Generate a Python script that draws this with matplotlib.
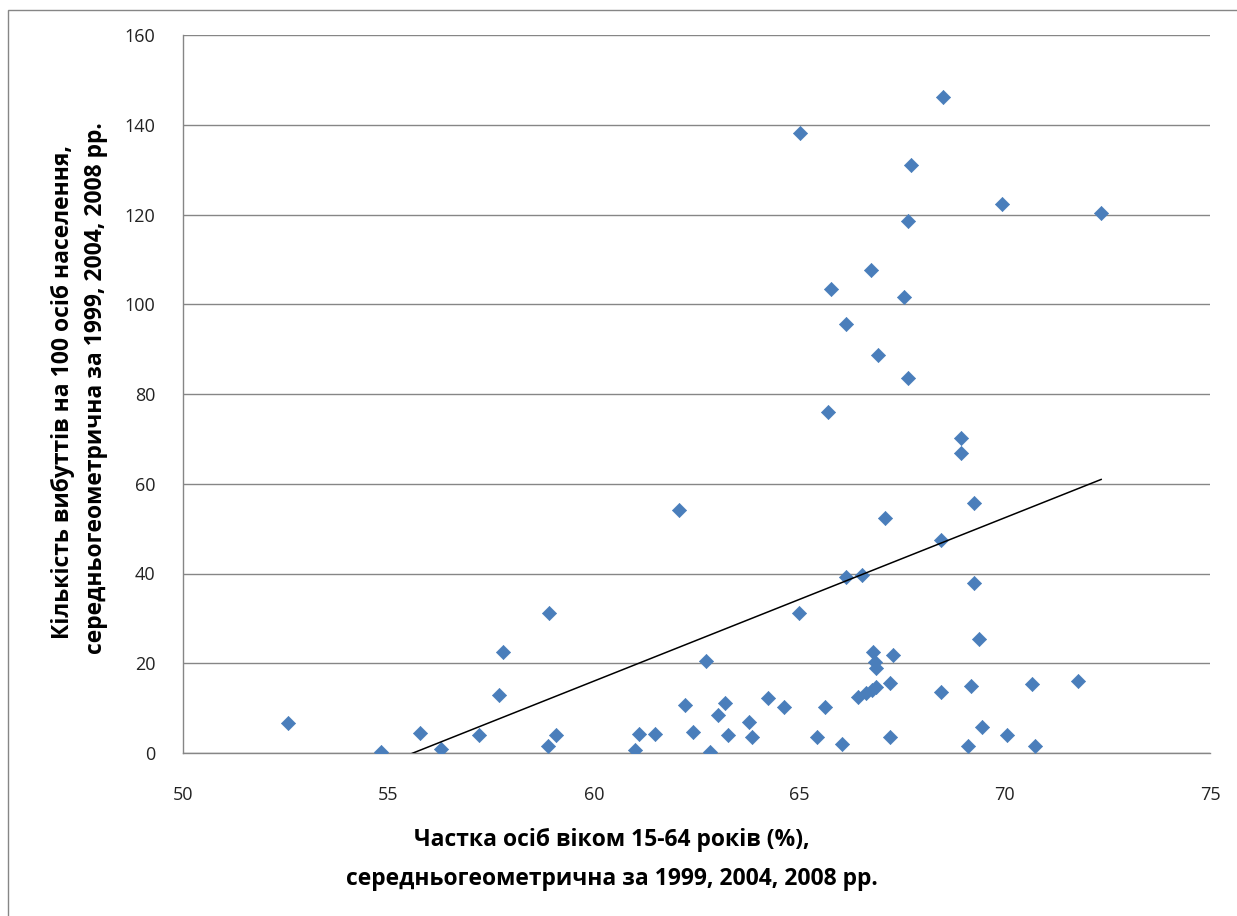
import numpy as np
import matplotlib.pyplot as plt
from matplotlib.patches import Rectangle

plt.rcParams['font.family'] = ['Open Sans', 'DejaVu Sans']

# частка осіб віком 15-64 (%) та кількість вибуттів на 100 осіб
x_share = [52.56, 54.81, 55.77, 56.29, 57.20, 57.70, 57.79, 58.91, 58.89, 59.09,
           61.00, 61.09, 61.48, 62.73, 62.21, 62.42, 62.82, 63.02, 63.19, 63.26,
           63.78, 63.85, 64.23, 64.63, 64.99, 65.43, 65.62, 66.05, 66.13, 66.53,
           66.42, 66.63, 66.76, 66.88, 66.80, 66.84, 66.86, 67.28, 67.20, 67.22,
           69.25, 69.38, 68.46, 69.19, 70.67, 71.78, 69.46, 70.06, 69.11, 70.75,
           65.01, 67.73, 67.65, 66.74, 65.78, 67.54, 66.13, 68.50, 69.94, 72.35,
           66.92, 67.65, 65.70, 68.95, 68.95, 62.07, 69.25, 67.08, 68.46]
y_departures = [6.6, 0.2, 4.4, 1.0, 3.9, 12.9, 22.6, 31.1, 1.6, 4.0,
                0.7, 4.2, 4.2, 20.5, 10.7, 4.7, 0.3, 8.5, 11.2, 4.0,
                7.0, 3.6, 12.3, 10.2, 31.1, 3.5, 10.3, 1.9, 39.3, 39.7,
                12.5, 13.3, 14.0, 14.8, 22.6, 20.3, 18.9, 21.8, 15.5, 3.5,
                37.8, 25.3, 13.7, 14.9, 15.3, 16.1, 5.9, 3.9, 1.6, 1.6,
                138.1, 131.0, 118.6, 107.6, 103.3, 101.7, 95.6, 146.1, 122.3, 120.3,
                88.7, 83.5, 76.1, 70.1, 66.8, 54.2, 55.8, 52.3, 47.5]
x_ticks = [50, 55, 60, 65, 70, 75]
y_ticks = [0, 20, 40, 60, 80, 100, 120, 140, 160]

W, H = 1237, 916
fig = plt.figure(figsize=(W / 100, H / 100), dpi=100)
ax = fig.add_axes([183 / W, 1 - 753 / H, (1210 - 183) / W, (753 - 35) / H])

grey = '#868686'
ax.scatter(x_share, y_departures, marker='D', s=52, color='#4a7ebb',
           edgecolors='#4a7ebb', linewidths=0.5, zorder=3)

# лінійний тренд
k, b = np.polyfit(x_share, y_departures, 1)
xs = np.array([min(x_share), max(x_share)])
ax.plot(xs, k * xs + b, color='black', lw=1.1, zorder=4)

ax.set_xlim(50, 75)
ax.set_ylim(0, 160)
ax.set_xticks(x_ticks)
ax.set_yticks(y_ticks)
ax.grid(axis='y', color=grey, lw=1.0)
ax.set_axisbelow(True)
for s in ['top', 'right']:
    ax.spines[s].set_visible(False)
for s in ['left', 'bottom']:
    ax.spines[s].set_color(grey)
    ax.spines[s].set_linewidth(1.0)
ax.tick_params(axis='both', length=0, labelsize=13, colors='#222222')
ax.tick_params(axis='y', pad=20)
ax.tick_params(axis='x', pad=24)

bold = dict(fontsize=16.5, fontweight='bold')
fig.text(612 / W, 1 - 840 / H, 'Частка осіб віком 15-64 років (%),',
         ha='center', va='center', **bold)
fig.text(612 / W, 1 - 879 / H, 'середньогеометрична за 1999, 2004, 2008 рр.',
         ha='center', va='center', **bold)
fig.text(63 / W, 1 - 392 / H, 'Кількість вибуттів на 100 осіб населення,',
         ha='center', va='center', rotation=90, **bold)
fig.text(96 / W, 1 - 388 / H, 'середньогеометрична за 1999, 2004, 2008 рр.',
         ha='center', va='center', rotation=90, **bold)

# рамка області діаграми
fig.patches.append(Rectangle((8 / W, -0.05), 1.1, 1.05 - 10 / H, transform=fig.transFigure,
                             fill=False, edgecolor=grey, lw=1.0))

fig.savefig('out.png', dpi=100)
